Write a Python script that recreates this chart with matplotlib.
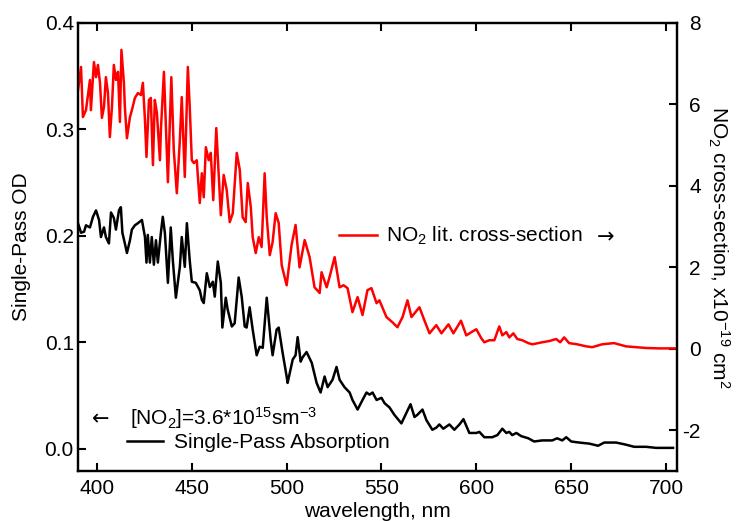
"""
Single-pass NO2 absorption vs. literature cross-section (two y axes).
"""

import matplotlib

matplotlib.use("Agg")
import matplotlib.pyplot as plt

# NO2 literature cross-section, x1e-19 cm^2 (right axis)
wl_xs = [
    390.0, 391.6, 392.6, 394.2, 396.3, 396.8, 398.4, 399.5, 400.5, 401.6,
    402.6, 403.7, 404.7, 405.8, 406.8, 407.9, 408.9, 410.0, 411.1, 412.1,
    412.9, 414.2, 414.7, 415.8, 417.4, 418.4, 420.0, 421.6, 423.2, 424.2,
    425.3, 426.1, 427.4, 428.4, 429.5, 430.5, 431.6, 433.2, 433.7, 435.3,
    436.3, 437.4, 439.2, 440.5, 442.1, 443.7, 444.7, 446.3, 447.9, 448.9,
    450.0, 451.1, 452.6, 454.2, 455.3, 456.3, 457.4, 458.9, 460.0, 461.3,
    462.9, 463.7, 465.3, 466.8, 468.4, 470.0, 471.6, 473.7, 475.3, 476.8,
    478.4, 479.5, 481.1, 482.1, 483.7, 485.3, 486.8, 488.4, 489.5, 491.1,
    492.6, 494.2, 495.8, 497.4, 500.0, 502.6, 504.7, 506.8, 509.5, 512.1,
    514.7, 517.4, 518.4, 521.1, 522.6, 525.3, 527.9, 530.0, 532.1, 534.7,
    537.4, 540.0, 542.6, 544.7, 547.4, 548.9, 552.6, 555.8, 558.4, 561.1,
    563.7, 565.8, 567.4, 570.0, 572.6, 575.3, 578.9, 581.6, 585.3, 587.9,
    591.9, 594.7, 597.4, 600.0, 602.6, 604.2, 606.8, 609.5, 612.1, 613.7,
    615.8, 617.4, 619.5, 621.6, 624.2, 627.4, 629.5, 634.7, 638.4, 642.1,
    644.2, 646.3, 648.9, 653.2, 657.9, 661.1, 666.3, 672.6, 678.9, 684.2,
    689.5, 696.3, 704.2, 706.0,
]
xs_no2 = [
    6.35, 6.92, 5.69, 5.86, 6.60, 5.86, 7.04, 6.67, 6.97, 6.53,
    5.67, 5.94, 6.67, 6.28, 5.20, 5.94, 6.97, 6.60, 6.80, 5.57,
    7.34, 6.53, 5.94, 5.17, 5.69, 5.86, 6.16, 6.28, 6.23, 6.53,
    5.62, 4.71, 6.11, 6.16, 4.51, 6.11, 5.79, 4.63, 5.37, 6.80,
    5.54, 4.09, 6.67, 4.88, 3.82, 5.13, 6.18, 4.22, 6.92, 5.94,
    4.63, 4.56, 4.63, 3.58, 4.31, 3.72, 4.95, 4.63, 4.81, 3.65,
    5.42, 4.71, 3.28, 4.27, 3.90, 3.11, 3.33, 4.81, 4.39, 3.23,
    3.11, 4.07, 3.48, 2.74, 2.35, 2.74, 2.50, 4.31, 3.23, 2.30,
    2.62, 3.33, 3.09, 2.05, 1.56, 2.55, 3.04, 2.00, 2.67, 2.25,
    1.51, 1.37, 1.88, 1.51, 1.76, 2.25, 1.51, 1.56, 1.49, 0.90,
    1.27, 0.83, 1.44, 1.49, 1.12, 1.19, 0.78, 0.65, 0.53, 0.78,
    1.19, 0.78, 0.87, 1.02, 0.70, 0.38, 0.58, 0.38, 0.60, 0.38,
    0.69, 0.33, 0.41, 0.48, 0.26, 0.16, 0.21, 0.21, 0.55, 0.33,
    0.41, 0.28, 0.38, 0.24, 0.21, 0.14, 0.11, 0.16, 0.19, 0.24,
    0.16, 0.28, 0.14, 0.11, 0.06, 0.04, 0.11, 0.14, 0.06, 0.04,
    0.02, 0.01, 0.01, 0.01,
]

# measured single-pass optical depth (left axis)
wl_od = [
    390.0, 391.6, 393.2, 394.2, 396.3, 397.9, 399.5, 401.1, 402.1, 403.7,
    404.7, 406.3, 407.4, 408.9, 410.0, 411.6, 412.6, 413.4, 414.7, 415.8,
    417.4, 418.4, 420.0, 421.6, 423.7, 425.3, 426.1, 426.8, 427.9, 428.9,
    430.0, 431.1, 432.1, 433.7, 434.7, 435.8, 437.4, 438.9, 440.0, 441.6,
    443.7, 444.7, 446.3, 447.4, 448.9, 450.0, 452.1, 454.2, 455.3, 456.3,
    457.9, 459.5, 461.1, 462.1, 463.7, 465.3, 466.1, 467.9, 468.9, 471.1,
    472.6, 474.7, 476.3, 477.9, 478.9, 480.5, 482.1, 484.2, 485.8, 487.4,
    489.5, 491.6, 492.6, 494.7, 495.8, 497.9, 500.0, 500.5, 503.2, 504.7,
    505.8, 507.4, 508.4, 510.5, 513.2, 515.8, 517.9, 520.0, 521.6, 524.2,
    526.3, 527.9, 530.5, 533.2, 534.7, 537.4, 540.0, 542.1, 543.7, 545.3,
    547.4, 550.0, 551.6, 554.2, 556.8, 560.5, 563.2, 565.3, 567.4, 568.9,
    571.6, 573.7, 576.8, 578.9, 580.5, 582.6, 585.8, 588.4, 591.1, 593.2,
    596.3, 600.0, 601.6, 604.2, 608.4, 611.1, 613.7, 615.8, 617.4, 618.9,
    621.1, 623.7, 627.4, 630.5, 634.7, 640.0, 642.6, 645.3, 647.4, 650.0,
    654.2, 659.5, 664.2, 667.4, 673.7, 678.9, 683.2, 689.5, 694.7, 700.0,
    703.7,
]
od = [
    0.212, 0.203, 0.204, 0.210, 0.208, 0.218, 0.224, 0.215, 0.199, 0.208,
    0.199, 0.193, 0.222, 0.217, 0.206, 0.224, 0.227, 0.203, 0.193, 0.184,
    0.196, 0.206, 0.210, 0.212, 0.215, 0.199, 0.175, 0.201, 0.175, 0.199,
    0.173, 0.196, 0.175, 0.203, 0.218, 0.203, 0.156, 0.208, 0.177, 0.142,
    0.171, 0.199, 0.171, 0.212, 0.177, 0.157, 0.156, 0.149, 0.140, 0.137,
    0.165, 0.152, 0.157, 0.143, 0.176, 0.156, 0.114, 0.142, 0.131, 0.115,
    0.118, 0.161, 0.143, 0.115, 0.114, 0.133, 0.112, 0.088, 0.096, 0.095,
    0.142, 0.102, 0.088, 0.112, 0.114, 0.090, 0.068, 0.062, 0.084, 0.088,
    0.105, 0.082, 0.086, 0.091, 0.081, 0.062, 0.053, 0.068, 0.058, 0.065,
    0.077, 0.065, 0.058, 0.053, 0.046, 0.037, 0.046, 0.053, 0.051, 0.053,
    0.046, 0.048, 0.043, 0.039, 0.032, 0.024, 0.034, 0.042, 0.030, 0.032,
    0.037, 0.027, 0.018, 0.020, 0.023, 0.019, 0.023, 0.018, 0.023, 0.028,
    0.015, 0.015, 0.016, 0.011, 0.011, 0.013, 0.019, 0.015, 0.016, 0.013,
    0.015, 0.012, 0.010, 0.007, 0.008, 0.008, 0.010, 0.008, 0.011, 0.007,
    0.006, 0.005, 0.003, 0.006, 0.006, 0.004, 0.002, 0.002, 0.001, 0.001,
    0.001,
]

x_ticks = [400, 450, 500, 550, 600, 650, 700]
od_ticks = [0.0, 0.1, 0.2, 0.3, 0.4]
xs_ticks = [-2, 0, 2, 4, 6, 8]

FS = 15

plt.rcParams["font.family"] = ["Liberation Sans", "DejaVu Sans"]
plt.rcParams["mathtext.fontset"] = "custom"
plt.rcParams["mathtext.rm"] = "Liberation Sans"
plt.rcParams["mathtext.it"] = "Liberation Sans:italic"
plt.rcParams["mathtext.bf"] = "Liberation Sans:bold"
plt.rcParams["axes.unicode_minus"] = False

fig = plt.figure(figsize=(7.4, 5.21), dpi=100)
ax = fig.add_axes([0.1054, 0.0960, 0.8095, 0.8599])
ax2 = ax.twinx()

(od_line,) = ax.plot(wl_od, od, color="black", lw=1.8)
(xs_line,) = ax2.plot(wl_xs, xs_no2, color="#ff0000", lw=1.8)

ax.set_xlim(390, 705.8)
ax.set_ylim(-0.0207, 0.4)
ax2.set_ylim(-3.0, 8.0)

ax.set_xticks(x_ticks)
ax.set_yticks(od_ticks)
ax.set_yticklabels([f"{v:.1f}" for v in od_ticks])
ax2.set_yticks(xs_ticks)

for a in (ax, ax2):
    for s in a.spines.values():
        s.set_linewidth(1.6)

ax.tick_params(axis="x", direction="in", length=6, width=1.5, top=True,
               labelsize=FS, pad=6)
ax.tick_params(axis="y", direction="in", length=6, width=1.5, right=False,
               labelsize=FS, pad=3)
ax2.tick_params(axis="y", direction="in", length=6, width=1.5, labelsize=FS,
                pad=17)
for lab in ax2.get_yticklabels():
    lab.set_horizontalalignment("right")

# kept just inside the bottom edge (the original crops it slightly)
ax.set_xlabel("wavelength, nm", fontsize=FS, labelpad=3)
ax.set_ylabel("Single-Pass OD", fontsize=FS, labelpad=10)
ax2.set_ylabel("NO$_2$ cross-section, x10$^{-19}$ cm$^2$", fontsize=FS,
               rotation=270, va="bottom", labelpad=4)

# red series key, placed inside the plot like the original
ax2.legend([xs_line], ["NO$_2$ lit. cross-section"], loc="center left",
           bbox_to_anchor=(0.4357, 0.5246), frameon=False, fontsize=FS,
           handlelength=1.83, handletextpad=0.43, borderpad=0, borderaxespad=0)
ax.text(0.8664, 0.5089, "\u2192", transform=ax.transAxes, fontsize=FS,
        va="baseline", family="DejaVu Sans")

# black series key with the concentration note above it
ax.text(0.0234, 0.1027, "\u2190", transform=ax.transAxes, fontsize=FS,
        va="baseline", family="DejaVu Sans")
ax.text(0.0868, 0.1027, "[NO$_2$]=3.6*10$^{15}$sm$^{-3}$", transform=ax.transAxes,
        fontsize=FS, va="baseline")
ax.legend([od_line], ["Single-Pass Absorption"], loc="center left",
          bbox_to_anchor=(0.0818, 0.0625), frameon=False, fontsize=FS,
          handlelength=1.74, handletextpad=0.53, borderpad=0, borderaxespad=0)

fig.savefig("out.png", dpi=100)
